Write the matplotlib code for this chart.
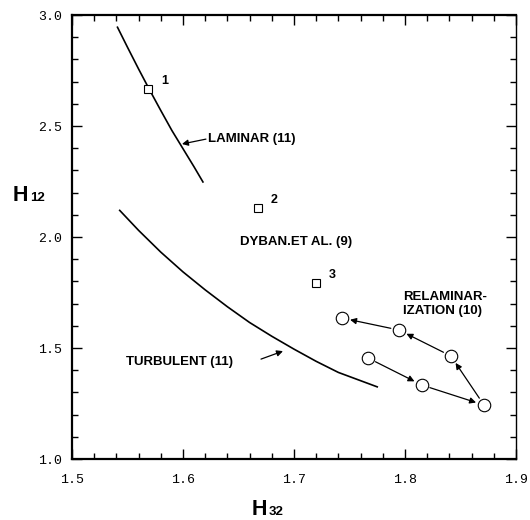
import matplotlib
matplotlib.use("Agg")
import matplotlib.pyplot as plt
from matplotlib.ticker import MultipleLocator

# courbe laminaire (11)
lam_h32 = [1.541, 1.550, 1.560, 1.570, 1.580, 1.590, 1.600, 1.610, 1.618]
lam_h12 = [2.945, 2.855, 2.757, 2.662, 2.570, 2.480, 2.398, 2.316, 2.248]

# courbe turbulente (11)
turb_h32 = [1.543, 1.56, 1.58, 1.60, 1.62, 1.64, 1.66, 1.68, 1.70, 1.72, 1.74, 1.775]
turb_h12 = [2.12, 2.030, 1.932, 1.843, 1.762, 1.686, 1.615, 1.553, 1.495, 1.440, 1.390, 1.325]

# Dyban et al. (9)
dyban_h32 = [1.5685, 1.6676, 1.7198]
dyban_h12 = [2.667, 2.131, 1.793]
dyban_lbl = ["1", "2", "3"]

# relaminarisation (10), dans l'ordre des fleches
relam_h32 = [1.7667, 1.8153, 1.8712, 1.8414, 1.7946, 1.7432]
relam_h12 = [1.455, 1.333, 1.243, 1.464, 1.581, 1.635]

fig = plt.figure(figsize=(5.3, 5.2), dpi=100)
ax = fig.add_axes([0.1358, 0.1173, 0.8377, 0.8538])

ax.plot(lam_h32, lam_h12, color="black", lw=1.2)
ax.plot(turb_h32, turb_h12, color="black", lw=1.2)

ax.plot(dyban_h32, dyban_h12, ls="none", marker="s", ms=6, mfc="white",
        mec="black", mew=0.8)
for x, y, t in zip(dyban_h32, dyban_h12, dyban_lbl):
    ax.text(x + 0.0117, y + 0.036, t, fontsize=9, fontweight="bold",
            family="Liberation Sans", ha="left", va="center")

ax.plot(relam_h32, relam_h12, ls="none", marker="o", ms=9, mfc="white",
        mec="black", mew=0.8, zorder=3)
for i in range(len(relam_h32) - 1):
    ax.annotate("", xy=(relam_h32[i+1], relam_h12[i+1]),
                xytext=(relam_h32[i], relam_h12[i]),
                arrowprops=dict(arrowstyle="-|>", color="black", lw=0.9,
                                mutation_scale=9, shrinkA=6, shrinkB=6))

lbl = dict(fontsize=9.5, fontweight="bold", family="Liberation Sans",
           ha="left", va="center")
ax.text(1.6225, 2.441, "LAMINAR (11)", **lbl)
ax.annotate("", xy=(1.5991, 2.419), xytext=(1.6207, 2.441),
            arrowprops=dict(arrowstyle="-|>", color="black", lw=0.9,
                            mutation_scale=9, shrinkA=0, shrinkB=0))
ax.text(1.6514, 1.977, "DYBAN.ET AL. (9)", **lbl)
ax.text(1.5486, 1.437, "TURBULENT (11)", **lbl)
ax.annotate("", xy=(1.6901, 1.486), xytext=(1.6703, 1.450),
            arrowprops=dict(arrowstyle="-|>", color="black", lw=0.9,
                            mutation_scale=9, shrinkA=0, shrinkB=0))
ax.text(1.7982, 1.698, "RELAMINAR-\nIZATION (10)", fontsize=9.5,
        fontweight="bold", family="Liberation Sans", ha="left", va="center",
        linespacing=1.3)

ax.set_xlim(1.5, 1.9)
ax.set_ylim(1.0, 3.0)
ax.xaxis.set_major_locator(MultipleLocator(0.1))
ax.xaxis.set_minor_locator(MultipleLocator(0.02))
ax.yaxis.set_major_locator(MultipleLocator(0.5))
ax.yaxis.set_minor_locator(MultipleLocator(0.1))
ax.xaxis.set_major_formatter(plt.FuncFormatter(lambda v, p: "%.1f" % v))
ax.yaxis.set_major_formatter(plt.FuncFormatter(lambda v, p: "%.1f" % v))

ax.tick_params(which="both", direction="in", top=True, right=True,
               width=1.0, colors="black")
ax.tick_params(which="major", length=7)
ax.tick_params(which="minor", length=4)
ax.tick_params(axis="x", pad=11)
ax.tick_params(axis="y", pad=7)
for t in ax.get_xticklabels() + ax.get_yticklabels():
    t.set_family("Liberation Mono")
    t.set_fontsize(9.5)

for s in ["left", "bottom", "top"]:
    ax.spines[s].set_linewidth(1.6)
ax.spines["right"].set_linewidth(1.0)

# etiquettes d'axes : H gros, indice plus petit
fig.text(13 / 530, 1 - 201 / 520, "H", fontsize=15.5, fontweight="bold",
         family="Liberation Sans", ha="left", va="baseline")
fig.text(30 / 530, 1 - 201 / 520, "12", fontsize=9.5, fontweight="bold",
         family="Liberation Sans", ha="left", va="baseline")
fig.text(252 / 530, 1 - 515 / 520, "H", fontsize=15.5, fontweight="bold",
         family="Liberation Sans", ha="left", va="baseline")
fig.text(269 / 530, 1 - 515 / 520, "32", fontsize=9.5, fontweight="bold",
         family="Liberation Sans", ha="left", va="baseline")

fig.savefig("out.png", dpi=100)
